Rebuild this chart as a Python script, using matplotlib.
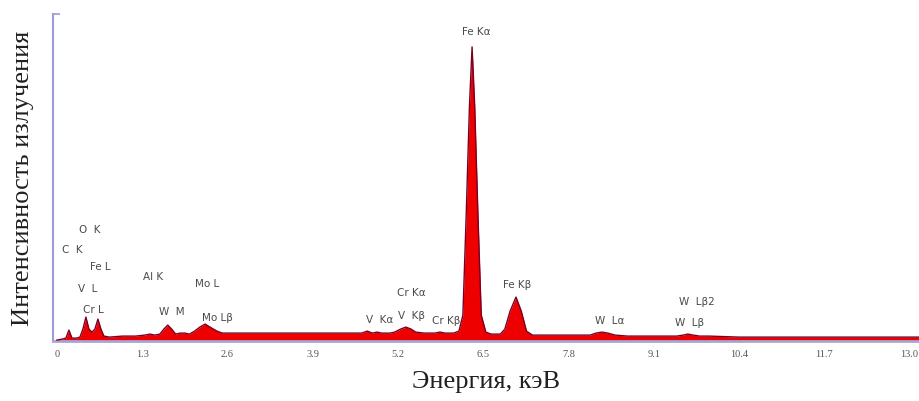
import numpy as np
import matplotlib.pyplot as plt

# Спектр ЭДС (произвольные единицы)
energy = [0.0, 0.08, 0.137, 0.183, 0.229, 0.30, 0.351, 0.396, 0.442, 0.488, 0.534,
          0.579, 0.625, 0.671, 0.716, 0.80, 1.0, 1.20, 1.34, 1.42, 1.49,
          1.57, 1.63, 1.69, 1.75, 1.81, 1.88, 1.95, 2.02, 2.10, 2.18, 2.26,
          2.31, 2.36, 2.44, 2.52, 2.7, 3.2, 3.9, 4.5, 4.65, 4.73, 4.81, 4.88,
          4.95, 5.08, 5.15, 5.24, 5.32, 5.40, 5.47, 5.60, 5.76, 5.84, 5.92,
          6.05, 6.13, 6.19, 6.24, 6.29, 6.33, 6.37, 6.42, 6.47, 6.54, 6.62,
          6.76, 6.83, 6.91, 7.00, 7.08, 7.16, 7.25, 7.6, 8.0, 8.13, 8.22,
          8.31, 8.40, 8.51, 8.7, 9.2, 9.45, 9.55, 9.62, 9.70, 9.80, 9.95,
          10.4, 11.0, 12.0, 13.2]
intensity = [1, 2, 3, 11, 3, 3, 4, 12, 24, 12, 9,
             12, 22, 12, 5, 4, 5, 5, 6, 7, 6,
             7, 12, 16, 12, 7, 8, 8, 7, 10, 14, 17,
             15, 13, 10, 8, 8, 8, 8, 8, 8, 10, 8, 9,
             8, 8, 9, 12, 14, 12, 9, 8, 8, 9, 8,
             8, 10, 26, 125, 235, 294, 235, 125, 26, 9, 7,
             7, 12, 30, 44, 30, 10, 6, 6, 6, 6, 8,
             9, 8, 6, 5, 5, 5, 6, 7, 6, 5, 5,
             4, 4, 4, 4]

# Подписи линий: текст, энергия, высота
line_labels = ['Fe K\u03b1', 'O  K', 'C  K', 'Fe L', 'V  L', 'Cr L', 'Al K',
               'W  M', 'Mo L', 'Mo L\u03b2', 'V  K\u03b1', 'V  K\u03b2',
               'Cr K\u03b1', 'Cr K\u03b2', 'Fe K\u03b2', 'W  L\u03b1',
               'W  L\u03b22', 'W  L\u03b2']
label_e = [6.39, 0.50, 0.23, 0.66, 0.47, 0.55, 1.46, 1.75, 2.29, 2.45,
           4.92, 5.40, 5.40, 5.93, 7.01, 8.43, 9.76, 9.65]
label_h = [310, 112, 92, 75, 53, 32, 65, 30, 58, 24,
           22, 26, 49, 21, 57, 21, 40, 19]

ticks = [0, 1.3, 2.6, 3.9, 5.2, 6.5, 7.8, 9.1, 10.4, 11.7, 13.0]

fig = plt.figure(figsize=(9.2, 4.02), dpi=100)
ax = fig.add_axes([0.0576, 0.149, 0.9424, 0.814])

ax.fill_between(energy, intensity, 0, color='#ee0000', lw=0, zorder=2)
ax.plot(energy, intensity, color='#7a0022', lw=1.0, zorder=3)

for txt, e, h in zip(line_labels, label_e, label_h):
    ax.text(e, h, txt, ha='center', va='center', fontsize=7.5,
            color='#4a4a4a', family='DejaVu Sans')

ax.set_xlim(-0.06, 13.16)
ax.set_ylim(0, 327)
ax.set_xticks(ticks)
ax.set_xticklabels(['0'] + [f'{t:.1f}' for t in ticks[1:]],
                   fontsize=7.5, color='#555555', family='Liberation Serif')
ax.tick_params(axis='x', length=0, pad=6)
ax.set_yticks([327])
ax.set_yticklabels([])
ax.tick_params(axis='y', direction='in', length=5, color='#9c9cd2', width=1.2)

for s in ['top', 'right']:
    ax.spines[s].set_visible(False)
ax.spines['left'].set_color('#9c9cd2')
ax.spines['left'].set_linewidth(1.5)
ax.spines['bottom'].set_color('#a9a3d6')
ax.spines['bottom'].set_linewidth(2)

ax.set_xlabel('Энергия, кэВ', fontsize=19, family='Liberation Serif',
              color='#202020', labelpad=8)
ax.set_ylabel('Интенсивность излучения', fontsize=19, family='Liberation Serif',
              color='#202020', labelpad=10)

fig.savefig('out.png', dpi=100)
